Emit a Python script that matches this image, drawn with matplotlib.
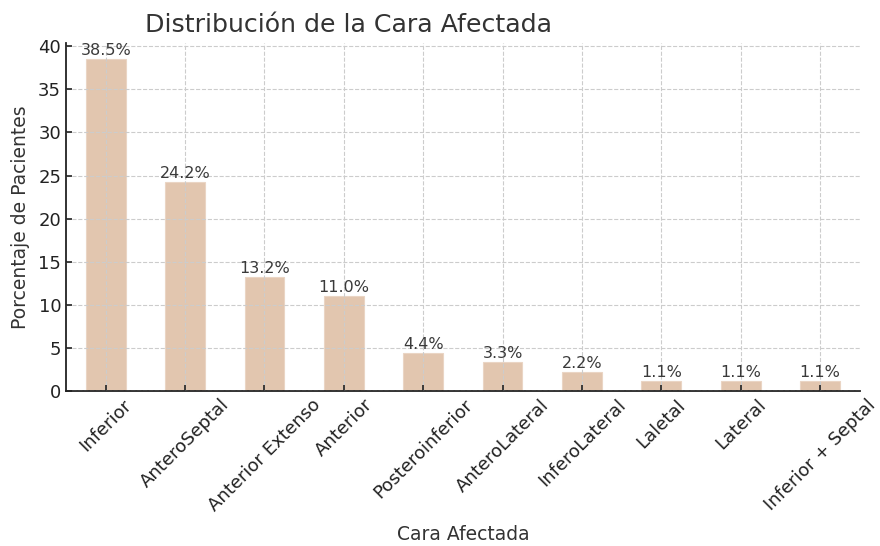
import matplotlib
matplotlib.use("Agg")
import matplotlib.pyplot as plt
import numpy as np

# Data
caras = ["Inferior", "AnteroSeptal", "Anterior Extenso", "Anterior",
         "Posteroinferior", "AnteroLateral", "InferoLateral", "Laletal",
         "Lateral", "Inferior + Septal"]
porcentajes = [38.5, 24.2, 13.2, 11.0, 4.4, 3.3, 2.2, 1.1, 1.1, 1.1]

BAR_COLOR = "#e2c6af"
TEXT_COLOR = "#333333"

fig = plt.figure(figsize=(8.8, 5.46), dpi=100)
ax = fig.add_axes([0.075, 0.284, 0.902, 0.638])

x = np.arange(len(caras))
bars = ax.bar(x, porcentajes, width=0.5, color=BAR_COLOR, edgecolor="#ead5c4",
              linewidth=0.8)
ax.set_xlim(-0.5, len(caras) - 0.5)

for xi, val in zip(x, porcentajes):
    ax.text(xi, val + 0.15, f"{val:.1f}%", ha="center", va="bottom",
            fontsize=11.5, color="#3a3a3a")

ax.set_xticks(x)
ax.set_xticklabels(caras, rotation=45, ha="center", fontsize=13, color="#222222")
ax.tick_params(axis="y", labelsize=13, labelcolor="#222222")
ax.tick_params(direction="in", length=4, width=1.2, color="#222222")

ax.grid(True, linestyle="--", color="#cccccc", linewidth=0.8)
ax.set_axisbelow(False)

for side in ("top", "right"):
    ax.spines[side].set_visible(False)
for side in ("left", "bottom"):
    ax.spines[side].set_color("#222222")
    ax.spines[side].set_linewidth(1.3)

ax.set_xlabel("Cara Afectada", fontsize=13.5, color=TEXT_COLOR, labelpad=7.5)
ax.set_ylabel("Porcentaje de Pacientes", fontsize=13.5, color=TEXT_COLOR, labelpad=6)
fig.text(0.165, 0.955, "Distribución de la Cara Afectada", fontsize=18.2,
         color=TEXT_COLOR, ha="left", va="center")

fig.savefig("out.png", dpi=100)
